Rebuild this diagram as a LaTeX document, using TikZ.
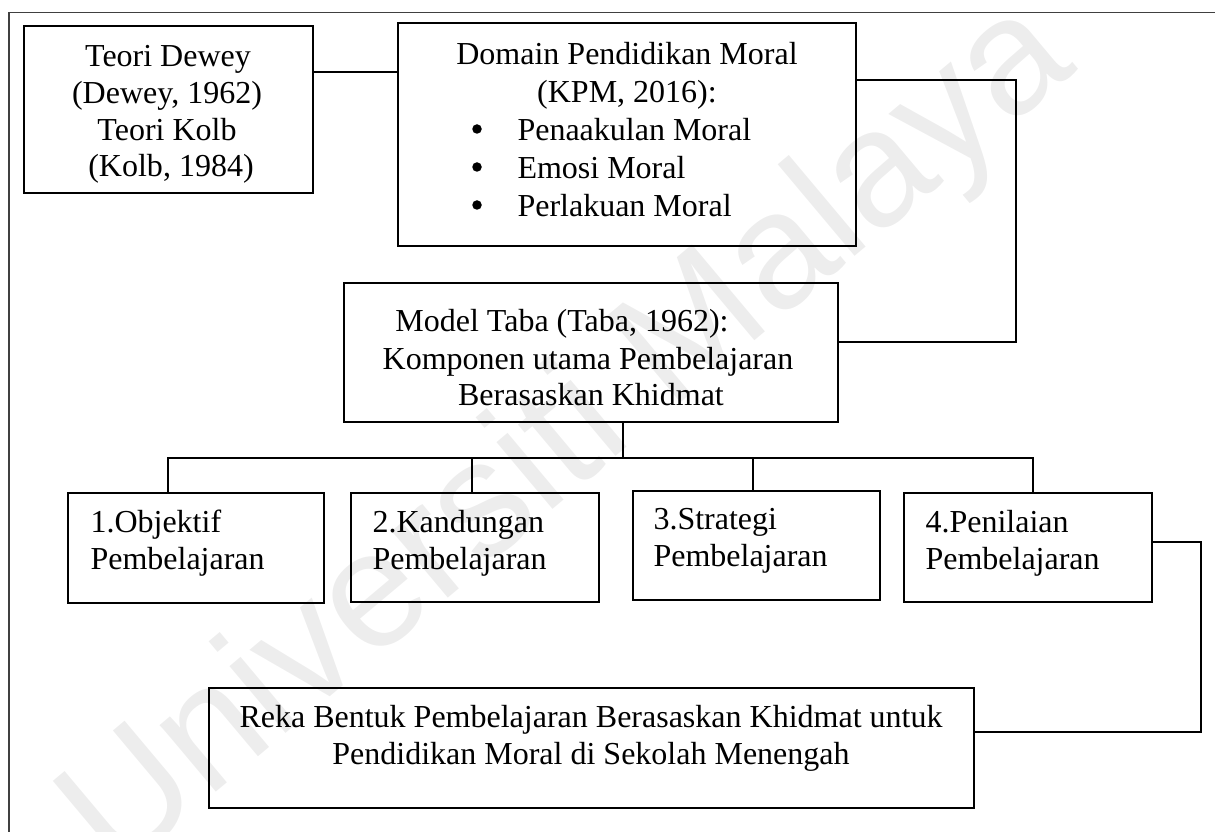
\documentclass[tikz,border=0pt]{standalone}
\usepackage{fontspec}
\setmainfont{Liberation Serif}
\newfontfamily\wmfont{Liberation Sans}
\begin{document}
\begin{tikzpicture}[x=0.4pt,y=-0.4pt,
  box/.style={draw, line width=1pt, rectangle, inner sep=0pt},
  txt/.style={inner sep=0pt, font=\fontsize{12.8pt}{15pt}\selectfont},
  dot/.style={circle, fill, inner sep=0pt, minimum size=3.8pt},
  wire/.style={line width=1pt}]
\useasboundingbox (0,0) rectangle (1215,832);
% watermark
\node[rotate=40, text=black!7, inner sep=0pt, font=\wmfont\fontsize{66pt}{66pt}\selectfont] (wm) at (570,440) {Universiti Malaya};
% frame
\draw[line width=0.6pt, black!75] (9,832) -- (9,12.5) -- (1215,12.5);
% boxes
\node[box, minimum width=115.6pt, minimum height=66.8pt] (A) at (168.5,109.5) {};
\node[box, minimum width=183.2pt, minimum height=89.2pt] (B) at (627,134.5) {};
\node[box, minimum width=197.6pt, minimum height=55.6pt] (C) at (591,352.5) {};
\node[box, minimum width=102.4pt, minimum height=44pt] (D1) at (196,548) {};
\node[box, minimum width=99.2pt, minimum height=43.6pt] (D2) at (475,547.5) {};
\node[box, minimum width=98.8pt, minimum height=43.6pt] (D3) at (756.5,545.5) {};
\node[box, minimum width=99.2pt, minimum height=43.6pt] (D4) at (1028,547.5) {};
\node[box, minimum width=306pt, minimum height=48pt] (E) at (591.5,748) {};
% texts A
\node[txt, anchor=base] (a1) at (168,67) {Teori Dewey};
\node[txt, anchor=base] (a2) at (167,103.7) {(Dewey, 1962)};
\node[txt, anchor=base] (a3) at (167,140.3) {Teori Kolb};
\node[txt, anchor=base] (a4) at (171,177) {(Kolb, 1984)};
% texts B
\node[txt, anchor=base] (b1) at (627,65) {Domain Pendidikan Moral};
\node[txt, anchor=base] (b2) at (627,103) {(KPM, 2016):};
\node[dot] (bb1) at (477,129) {};
\node[dot] (bb2) at (477,167) {};
\node[dot] (bb3) at (477,205) {};
\node[txt, anchor=base west] (b3) at (517,141) {Penaakulan Moral};
\node[txt, anchor=base west] (b4) at (517,179) {Emosi Moral};
\node[txt, anchor=base west] (b5) at (517,217) {Perlakuan Moral};
% texts C
\node[txt, anchor=base] (c1) at (562,332) {Model Taba (Taba, 1962):};
\node[txt, anchor=base] (c2) at (588,370) {Komponen utama Pembelajaran};
\node[txt, anchor=base] (c3) at (591,406) {Berasaskan Khidmat};
% texts D
\node[txt, anchor=base west] (d1a) at (90,533) {1.Objektif};
\node[txt, anchor=base west] (d1b) at (90,570) {Pembelajaran};
\node[txt, anchor=base west] (d2a) at (372,533) {2.Kandungan};
\node[txt, anchor=base west] (d2b) at (372,570) {Pembelajaran};
\node[txt, anchor=base west] (d3a) at (653,530) {3.Strategi};
\node[txt, anchor=base west] (d3b) at (653,567) {Pembelajaran};
\node[txt, anchor=base west] (d4a) at (925,533) {4.Penilaian};
\node[txt, anchor=base west] (d4b) at (925,570) {Pembelajaran};
% texts E
\node[txt, anchor=base] (e1) at (591,728) {Reka Bentuk Pembelajaran Berasaskan Khidmat untuk};
\node[txt, anchor=base] (e2) at (591,765) {Pendidikan Moral di Sekolah Menengah};
% connector coordinates
\coordinate (ab) at (355,72);
\coordinate (bc1) at (1016,80);
\coordinate (bc2) at (1016,342);
\coordinate (bus) at (623,458);
\coordinate (t1) at (168,458);
\coordinate (t2) at (472,458);
\coordinate (t3) at (753,458);
\coordinate (t4) at (1033,458);
\coordinate (de1) at (1201,542);
\coordinate (de2) at (1201,732);
% connectors
\draw[wire] (A.east |- ab) -- (B.west |- ab);
\draw[wire] (B.east |- bc1) -- (bc1) -- (bc2) -- (C.east |- bc2);
\draw[wire] (C.south -| bus) -- (bus);
\draw[wire] (D1.north -| t1) -- (t1) -- (t4) -- (D4.north -| t4);
\draw[wire] (t2) -- (D2.north -| t2);
\draw[wire] (t3) -- (D3.north -| t3);
\draw[wire] (D4.east |- de1) -- (de1) -- (de2) -- (E.east |- de2);
\end{tikzpicture}
\end{document}
